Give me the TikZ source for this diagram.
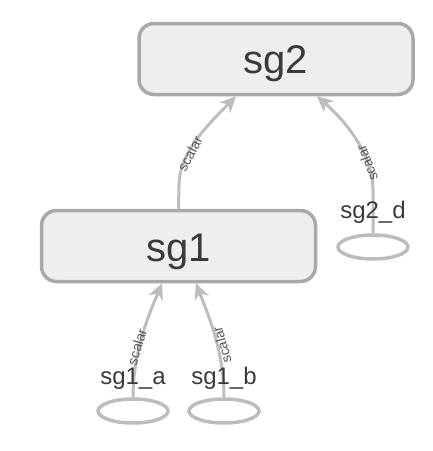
\documentclass[tikz,border=0pt]{standalone}
\usepackage{fontspec}
\setmainfont{Liberation Sans}
\usetikzlibrary{arrows.meta,shapes.geometric}
\definecolor{boxline}{HTML}{A9A9A9}
\definecolor{boxfill}{HTML}{EEEEEE}
\definecolor{edgec}{HTML}{BDBDBD}
\definecolor{txt}{HTML}{3A3A3A}
\definecolor{etxt}{HTML}{555555}
\begin{document}
\begin{tikzpicture}[x=1pt,y=-1pt,
 box/.style={draw=boxline, fill=boxfill, line width=3.5pt, rounded corners=15pt, minimum width=274pt, minimum height=71pt, inner sep=0pt},
 boxtext/.style={font=\fontsize{40}{42}\selectfont, text=txt, anchor=base, inner sep=0pt},
 ell/.style={draw=edgec, line width=3.5pt, ellipse, minimum width=70pt, minimum height=24pt, inner sep=0pt},
 lbl/.style={font=\fontsize{24}{26}\selectfont, text=txt, inner sep=0pt, anchor=base},
 elbl/.style={font=\fontsize{14}{15}\selectfont, text=etxt, inner sep=0pt},
 edge/.style={draw=edgec, line width=3pt, -{Stealth[length=16pt,width=15pt,inset=5pt]}}
]
\path[use as bounding box] (0,0) rectangle (433,451);
\node[box] (sg2) at (276,59) {};
\node[boxtext] (sg2t) at (276,73) {sg2};
\node[box] (sg1) at (178.5,246) {};
\node[boxtext] (sg1t) at (178.5,261) {sg1};
\node[ell] (sg2d) at (373,247) {};
\node[ell] (sg1a) at (133,411) {};
\node[ell] (sg1b) at (224,411) {};
\draw[edge] (sg1.north) -- (179,185) .. controls (179,150) and (215,118) .. ([xshift=-40pt]sg2.south);
\draw[edge] (sg2d.north) -- (373,190) .. controls (373,152) and (342,118) .. ([xshift=41pt]sg2.south);
\draw[edge] (sg1a.north) .. controls (133,350) and (150,312) .. ([xshift=-16.5pt]sg1.south);
\draw[edge] (sg1b.north) .. controls (224,350) and (207,312) .. ([xshift=17.5pt]sg1.south);
\node[lbl] (l2d) at (373,218) {sg2\_d};
\node[lbl] (l1a) at (133,384) {sg1\_a};
\node[lbl] (l1b) at (224,384) {sg1\_b};
\node[elbl, rotate=62] (e1) at (190,154) {scalar};
\node[elbl, rotate=111] (e2) at (367,163) {scalar};
\node[elbl, rotate=73] (e3) at (137,347) {scalar};
\node[elbl, rotate=106] (e4) at (222,345) {scalar};
\end{tikzpicture}
\end{document}
